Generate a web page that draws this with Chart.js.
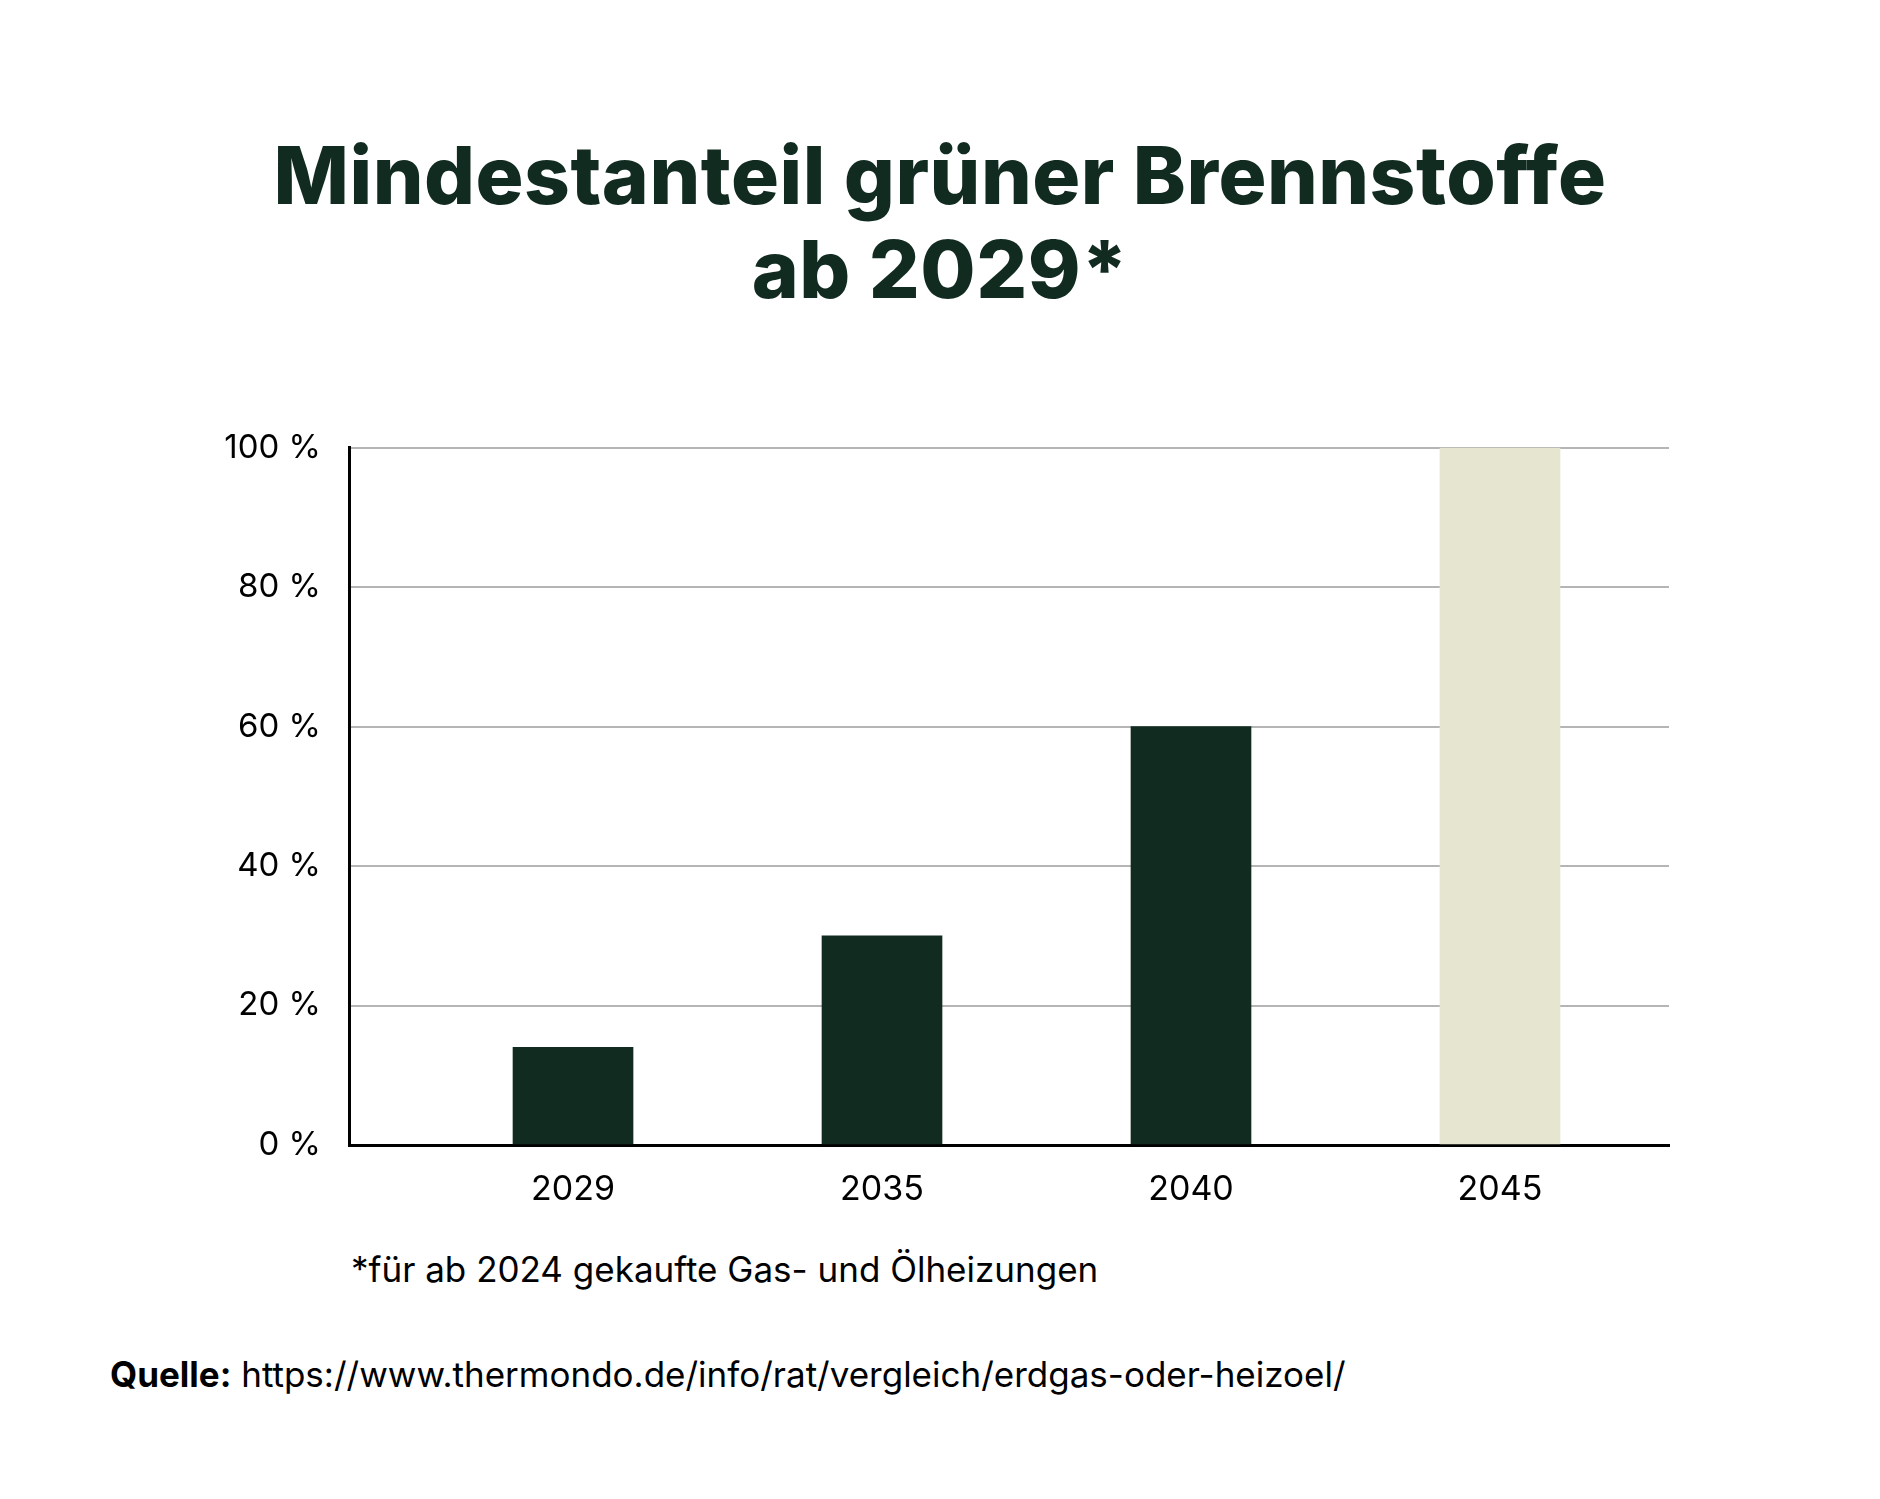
<!DOCTYPE html>
<html><head><meta charset="utf-8">
<script src="https://cdn.jsdelivr.net/npm/chart.js@4"></script>
<style>
  body { margin: 0; width: 1880px; height: 1499px; background: #fff; position: relative; font-family: Inter, "Noto Sans", sans-serif; color: #112b20; }
  h1 { position: absolute; left: 0; width: 1880px; top: 128px; margin: 0; text-align: center; font-size: 80px; line-height: 94px; font-weight: 800; letter-spacing: 0.5px; }
  .wrap { position: absolute; left: 0; top: 400px; width: 1700px; height: 820px; }
  .note { position: absolute; left: 351px; top: 1248px; font-size: 35px; color: #000; }
  .src { position: absolute; left: 110px; top: 1353px; font-size: 35px; color: #000; }
</style></head>
<body>
<h1>Mindestanteil grüner Brennstoffe<br>ab 2029*</h1>
<div class="wrap"><canvas id="c"></canvas></div>
<div class="note">*für ab 2024 gekaufte Gas- und Ölheizungen</div>
<div class="src"><b>Quelle:</b> https://www.thermondo.de/info/rat/vergleich/erdgas-oder-heizoel/</div>
<script>
const years = ["2029", "2035", "2040", "2045"];
const shares = [14, 30, 60, 100];
const barColors = ["#112b20", "#112b20", "#112b20", "#e5e5d0"];
const yTicks = [0, 20, 40, 60, 80, 100];

new Chart(document.getElementById("c"), {
  type: "bar",
  data: {
    datasets: [{
      data: shares.map((v, i) => ({ x: i, y: v })),
      backgroundColor: barColors,
      barThickness: 120,
    }],
  },
  options: {
    responsive: true,
    maintainAspectRatio: false,
    animation: false,
    layout: { padding: { top: 0, right: 31, left: 0, bottom: 0 } },
    plugins: { legend: { display: false }, tooltip: { enabled: false } },
    scales: {
      x: {
        type: "linear", min: -0.725, max: 3.547, offset: false,
        afterBuildTicks: (s) => { s.ticks = years.map((_, i) => ({ value: i })); },
        afterFit: (s) => { s.height = 75; },
        ticks: { color: "#000", font: { family: "Inter", size: 34 }, padding: 16, callback: (v) => years[v] ?? "" },
        grid: { display: false },
        border: { color: "#000", width: 3 },
      },
      y: {
        min: 0, max: 100,
        afterBuildTicks: (s) => { s.ticks = yTicks.map((v) => ({ value: v })); },
        afterFit: (s) => { s.width = 349; },
        ticks: { color: "#000", font: { family: "Inter", size: 33 }, padding: 28, callback: (v) => `${v} %` },
        grid: { color: "#b5b5b5", lineWidth: 2, drawTicks: false },
        border: { color: "#000", width: 3 },
      },
    },
  },
});
</script>
</body></html>
